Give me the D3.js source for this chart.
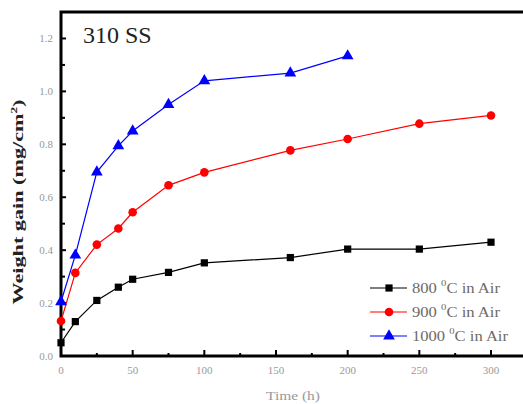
<!DOCTYPE html>
<html lang="en">
<head>
    <meta charset="UTF-8">
    <title>310 SS weight gain</title>
    <script src="https://d3js.org/d3.v7.min.js"></script>
    <style>
        body { margin: 0; background: #fff; }
    </style>
</head>
<body>
    <script>
        // oxidation time (h) and weight gain (mg/cm2) for each temperature
        const time800 = [0, 10, 25, 40, 50, 75, 100, 160, 200, 250, 300];
        const gain800 = [0.05, 0.13, 0.21, 0.26, 0.29, 0.316, 0.352, 0.372, 0.404, 0.404, 0.43];
        const time900 = [0, 10, 25, 40, 50, 75, 100, 160, 200, 250, 300];
        const gain900 = [0.132, 0.314, 0.421, 0.482, 0.543, 0.645, 0.694, 0.777, 0.82, 0.878, 0.909];
        const time1000 = [0, 10, 25, 40, 50, 75, 100, 160, 200];
        const gain1000 = [0.205, 0.381, 0.695, 0.794, 0.85, 0.95, 1.04, 1.069, 1.134];
        const seriesNames = ["800", "900", "1000"];
        const xTicks = [0, 50, 100, 150, 200, 250, 300];
        const yTicks = [0.0, 0.2, 0.4, 0.6, 0.8, 1.0, 1.2];

        const width = 523;
        const height = 404;
        const margin = { top: 12, left: 61, bottom: 48 };

        const x = d3.scaleLinear().domain([0, 330]).range([margin.left, margin.left + 473]);
        const y = d3.scaleLinear().domain([0, 1.3]).range([height - margin.bottom, margin.top]);

        const svg = d3.select("body").append("svg")
            .attr("width", width)
            .attr("height", height)
            .attr("font-family", "Liberation Serif");

        const series = [
            { name: seriesNames[0], t: time800, g: gain800, color: "#000000", shape: "square" },
            { name: seriesNames[1], t: time900, g: gain900, color: "#ff0000", shape: "circle" },
            { name: seriesNames[2], t: time1000, g: gain1000, color: "#0000ff", shape: "triangle" }
        ];

        const symbolOf = s => s === "square" ? d3.symbolSquare : s === "circle" ? d3.symbolCircle : d3.symbolTriangle;
        const sizeOf = s => s === "square" ? 52 : s === "circle" ? 58 : 60;

        // frame
        svg.append("rect")
            .attr("x", x(0)).attr("y", y(1.3))
            .attr("width", x(330) - x(0)).attr("height", y(0) - y(1.3))
            .attr("fill", "none").attr("stroke", "#000").attr("stroke-width", 3);

        // ticks (inward)
        const xMinor = d3.range(25, 330, 50);
        svg.selectAll(".xt").data(xTicks).enter().append("line")
            .attr("x1", d => x(d)).attr("x2", d => x(d))
            .attr("y1", y(0)).attr("y2", y(0) - 6)
            .attr("stroke", "#000").attr("stroke-width", 2);
        svg.selectAll(".xm").data(xMinor).enter().append("line")
            .attr("x1", d => x(d)).attr("x2", d => x(d))
            .attr("y1", y(0)).attr("y2", y(0) - 3)
            .attr("stroke", "#000").attr("stroke-width", 2);
        const yMinor = d3.range(0.1, 1.3, 0.2);
        svg.selectAll(".yt").data(yTicks).enter().append("line")
            .attr("x1", x(0)).attr("x2", x(0) + 5)
            .attr("y1", d => y(d)).attr("y2", d => y(d))
            .attr("stroke", "#000").attr("stroke-width", 2);
        svg.selectAll(".ym").data(yMinor).enter().append("line")
            .attr("x1", x(0)).attr("x2", x(0) + 4)
            .attr("y1", d => y(d)).attr("y2", d => y(d))
            .attr("stroke", "#000").attr("stroke-width", 2);

        // tick labels
        svg.selectAll(".xl").data(xTicks).enter().append("text")
            .attr("x", d => x(d)).attr("y", y(0) + 18)
            .attr("text-anchor", "middle")
            .attr("font-size", 11).attr("fill", "#999")
            .text(d => d);
        svg.selectAll(".yl").data(yTicks).enter().append("text")
            .attr("x", x(0) - 8).attr("y", d => y(d) + 3.5)
            .attr("text-anchor", "end")
            .attr("font-size", 11).attr("fill", "#999")
            .text(d => d.toFixed(1));

        // axis titles
        svg.append("text")
            .attr("x", 293).attr("y", 400)
            .attr("text-anchor", "middle")
            .attr("font-size", 13).attr("fill", "#999")
            .attr("textLength", 54).attr("lengthAdjust", "spacingAndGlyphs")
            .text("Time (h)");

        const yt = svg.append("text")
            .attr("transform", "translate(23,202) rotate(-90)")
            .attr("text-anchor", "middle")
            .attr("font-size", 15).attr("font-weight", "bold").attr("fill", "#222")
            .attr("textLength", 205).attr("lengthAdjust", "spacingAndGlyphs");
        yt.append("tspan").text("Weight gain (mg/cm");
        yt.append("tspan").attr("font-size", 9).attr("dy", -6).text("2");
        yt.append("tspan").attr("dy", 6).text(")");

        svg.append("text")
            .attr("x", 83).attr("y", 43)
            .attr("font-size", 24).attr("fill", "#222")
            .text("310 SS");

        // lines and markers
        const line = d3.line().x(d => x(d[0])).y(d => y(d[1]));
        series.forEach(s => {
            const pts = s.t.map((t, i) => [t, s.g[i]]);
            svg.append("path")
                .datum(pts)
                .attr("d", line)
                .attr("fill", "none")
                .attr("stroke", s.color)
                .attr("stroke-width", 1.2);
            svg.selectAll(null).data(pts).enter().append("path")
                .attr("transform", d => `translate(${x(d[0])},${y(d[1])})`)
                .attr("d", d3.symbol().type(symbolOf(s.shape)).size(sizeOf(s.shape)))
                .attr("fill", s.color);
        });

        // legend
        const legend = svg.append("g");
        series.forEach((s, i) => {
            const ly = 288 + i * 24;
            legend.append("line")
                .attr("x1", 370).attr("x2", 407)
                .attr("y1", ly).attr("y2", ly)
                .attr("stroke", s.color).attr("stroke-width", 1.2);
            legend.append("path")
                .attr("transform", `translate(389,${ly})`)
                .attr("d", d3.symbol().type(symbolOf(s.shape)).size(sizeOf(s.shape)))
                .attr("fill", s.color);
            const t = legend.append("text")
                .attr("x", 412).attr("y", ly + 5)
                .attr("font-size", 14).attr("fill", "#6e6a66")
                .attr("textLength", i === 2 ? 96 : 88).attr("lengthAdjust", "spacingAndGlyphs");
            t.append("tspan").text(s.name + " ");
            t.append("tspan").attr("font-size", 9).attr("dy", -7).text("0");
            t.append("tspan").attr("dy", 7).text("C in Air");
        });
    </script>
</body>
</html>
